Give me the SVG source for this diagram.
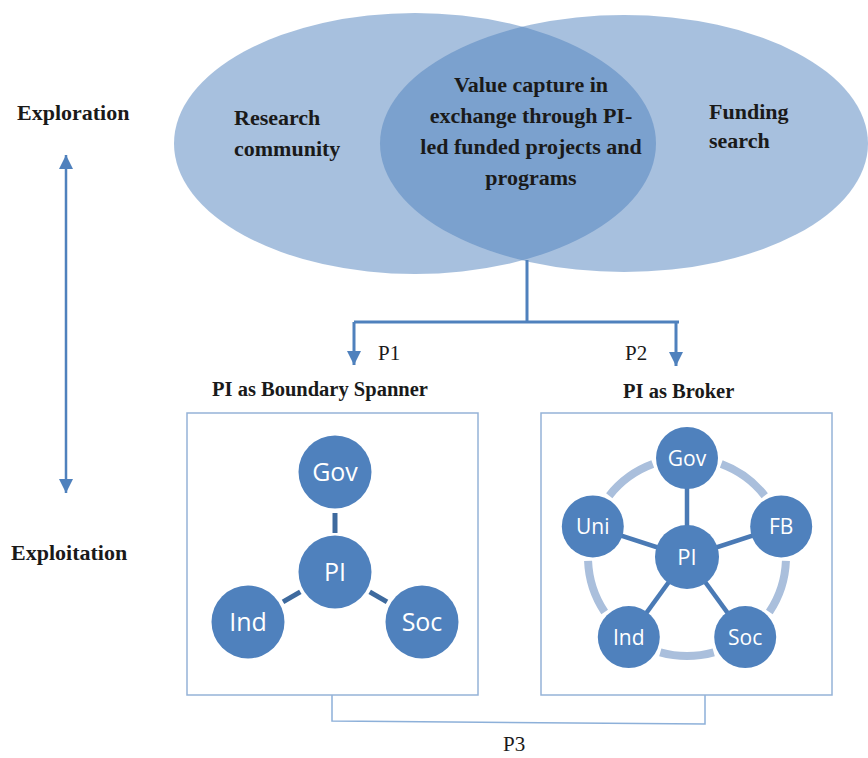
<svg xmlns="http://www.w3.org/2000/svg" width="868" height="758" viewBox="0 0 868 758">
<style>
.venn{fill:#4f81bd;fill-opacity:0.5}
.t{font-family:"Liberation Serif","Times New Roman",serif;font-weight:bold;font-size:22px;fill:#1a1a1a}
.tc{text-anchor:middle}
.p{font-family:"Liberation Serif","Times New Roman",serif;font-size:21px;fill:#1a1a1a}
.h{font-family:"Liberation Serif","Times New Roman",serif;font-weight:bold;font-size:20.5px;fill:#1a1a1a}
.conn{fill:none;stroke:#4f81bd;stroke-width:3}
.box{fill:#ffffff;stroke:#95b3d7;stroke-width:1.5}
.node{fill:#4f81bd}
.nl{font-family:"Open Sans","Noto Sans",sans-serif;fill:#ffffff;text-anchor:middle}
.seg{stroke:#3e6a9e;stroke-width:5}
.spoke{stroke:#4a7ab5;stroke-width:4.5}
.ring{fill:none;stroke:#aabfdc;stroke-width:8}
.bracket{fill:none;stroke:#8db0d9;stroke-width:1.5}
</style>
<defs>
<marker id="ah" markerUnits="userSpaceOnUse" markerWidth="16" markerHeight="14" refX="14" refY="7" orient="auto">
<path d="M0,0 L14,7 L0,14 Z" fill="#4f81bd"/>
</marker>
<marker id="ahs" markerUnits="userSpaceOnUse" markerWidth="16" markerHeight="14" refX="14" refY="7" orient="auto-start-reverse">
<path d="M0,0 L14,7 L0,14 Z" fill="#4f81bd"/>
</marker>
</defs>

<g id="venn">
<ellipse class="venn" cx="415" cy="143.5" rx="241" ry="130.5"/>
<ellipse class="venn" cx="624" cy="143.5" rx="244" ry="128.5"/>
</g>
<g id="research-community">
<text class="t" x="234" y="125">Research</text>
<text class="t" x="234" y="156">community</text>
</g>
<g id="funding-search">
<text class="t" x="709" y="119">Funding</text>
<text class="t" x="709" y="148">search</text>
</g>
<g id="value-capture">
<text class="t tc" x="531" y="92">Value capture in</text>
<text class="t tc" x="531" y="123">exchange through PI-</text>
<text class="t tc" x="531" y="154">led funded projects and</text>
<text class="t tc" x="531" y="185">programs</text>
</g>

<g id="axis">
<text class="t" x="17" y="120">Exploration</text>
<text class="t" x="11" y="560">Exploitation</text>
</g>

<g id="connectors">
<line x1="66" y1="155" x2="66" y2="493" stroke="#4f81bd" stroke-width="2.5" marker-start="url(#ahs)" marker-end="url(#ahs)"/>
<path class="conn" d="M527,260 V322"/>
<path class="conn" d="M354,322 H679"/>
<path class="conn" d="M354,322 V365" marker-end="url(#ah)"/>
<path class="conn" d="M676,322 V366" marker-end="url(#ah)"/>
<path class="bracket" d="M332,695 V721 L705,724 V695"/>
</g>

<g id="labels">
<text class="p" x="378" y="360">P1</text>
<text class="p" x="625" y="360">P2</text>
<text class="p" x="503" y="751">P3</text>
<text class="h" x="212" y="396">PI as Boundary Spanner</text>
<text class="h" x="623" y="398">PI as Broker</text>
</g>

<g id="boundary-spanner">
<rect class="box" x="187" y="413" width="291" height="282"/>
<line class="seg" x1="335" y1="513" x2="335" y2="533"/>
<line class="seg" x1="300.3" y1="591.9" x2="283" y2="601.9"/>
<line class="seg" x1="369.7" y1="591.9" x2="387" y2="601.9"/>
<g id="bs-gov"><circle class="node" cx="335" cy="472" r="36.5"/><text class="nl" x="335" y="481" font-size="25">Gov</text></g>
<g id="bs-pi"><circle class="node" cx="335" cy="572" r="36.5"/><text class="nl" x="335" y="581" font-size="25">PI</text></g>
<g id="bs-ind"><circle class="node" cx="248" cy="622" r="36.5"/><text class="nl" x="248" y="631" font-size="25">Ind</text></g>
<g id="bs-soc"><circle class="node" cx="422" cy="622" r="36.5"/><text class="nl" x="422" y="631" font-size="25">Soc</text></g>
</g>

<g id="broker">
<rect class="box" x="541" y="413" width="291" height="282"/>
<circle class="ring" cx="687" cy="557" r="99" pathLength="500" stroke-dasharray="43.7 56.3" stroke-dashoffset="-3.15"/>
<line class="spoke" x1="687" y1="557" x2="687" y2="458"/>
<line class="spoke" x1="687" y1="557" x2="781.2" y2="526.4"/>
<line class="spoke" x1="687" y1="557" x2="745.2" y2="637.1"/>
<line class="spoke" x1="687" y1="557" x2="628.8" y2="637.1"/>
<line class="spoke" x1="687" y1="557" x2="592.8" y2="526.4"/>
<g id="br-gov"><circle class="node" cx="687" cy="458" r="31"/><text class="nl" x="687" y="466" font-size="21">Gov</text></g>
<g id="br-fb"><circle class="node" cx="781.2" cy="526.4" r="31"/><text class="nl" x="781.2" y="534" font-size="21">FB</text></g>
<g id="br-soc"><circle class="node" cx="745.2" cy="637.1" r="31"/><text class="nl" x="745.2" y="645" font-size="21">Soc</text></g>
<g id="br-ind"><circle class="node" cx="628.8" cy="637.1" r="31"/><text class="nl" x="628.8" y="645" font-size="21">Ind</text></g>
<g id="br-uni"><circle class="node" cx="592.8" cy="526.4" r="31"/><text class="nl" x="592.8" y="534" font-size="21">Uni</text></g>
<g id="br-pi"><circle class="node" cx="687" cy="557" r="32"/><text class="nl" x="687" y="565" font-size="22">PI</text></g>
</g>
</svg>
